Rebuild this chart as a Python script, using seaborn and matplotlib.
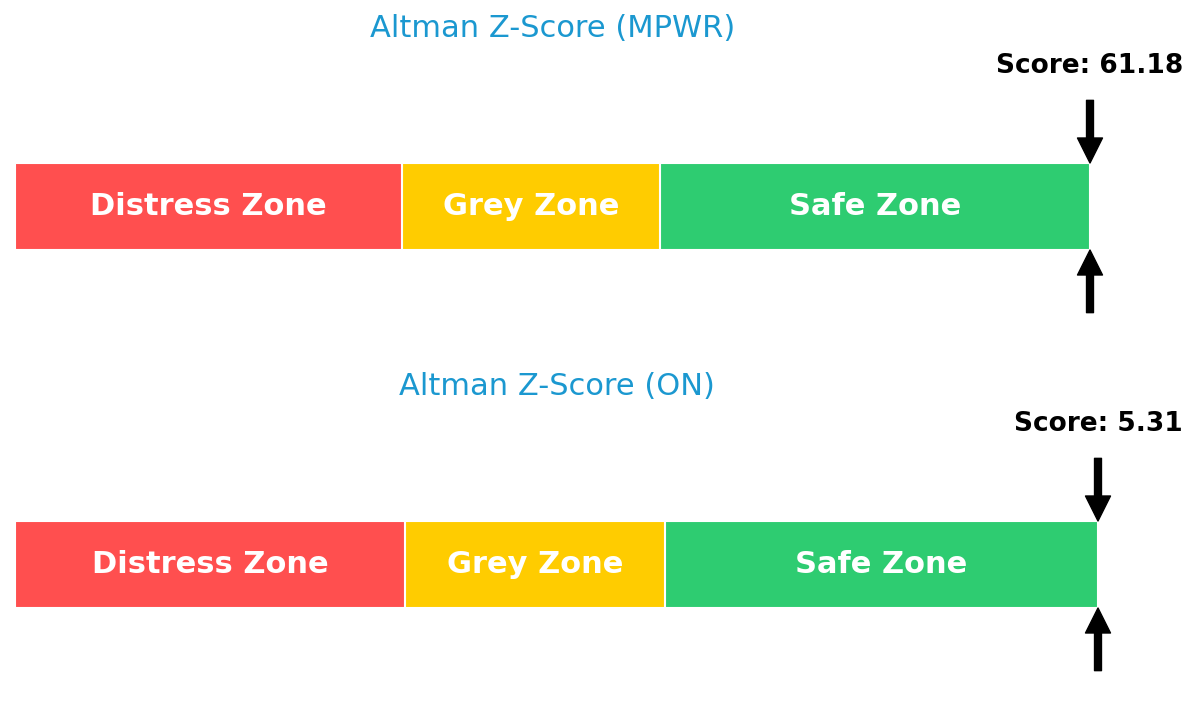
import numpy as np
import pandas as pd
from matplotlib import pyplot as plt
import seaborn as sns

# zone boundaries on the Altman Z-score scale
zone_names = ["Distress Zone", "Grey Zone", "Safe Zone"]
zone_starts = [0.0, 1.8, 3.0]
zone_ends = [1.8, 3.0, 5.0]
zone_colors = ["#ff4f4f", "#ffcc00", "#2ecc71"]

tickers = ["MPWR", "ON"]
scores = [61.18, 5.31]

# panel placement in pixels: left of bar, right of bar, bar top, bar bottom
panel_px = [(15, 1090, 163, 250), (15, 1098, 521, 608)]

W, H = 1200, 715

sns.set_theme(style="white")
plt.rcParams['font.family'] = ['DejaVu Sans']

fig = plt.figure(figsize=(W / 100, H / 100), dpi=100)
fig.patch.set_facecolor("white")

x_max = zone_ends[-1]

for ticker, score, (left, right, top, bottom) in zip(tickers, scores, panel_px):
    ax = fig.add_axes([left / W, 1 - bottom / H, (right - left) / W, (bottom - top) / H])

    # widest bar first so narrower zones overlay it
    df = pd.DataFrame({"zone": zone_names, "end": zone_ends, "pos": [0.5] * 3})
    order = zone_names[::-1]
    sns.barplot(data=df, x="end", y="pos", hue="zone", hue_order=order,
                palette=dict(zip(zone_names, zone_colors)), orient="h",
                native_scale=True, dodge=False, width=1, errorbar=None,
                saturation=1, edgecolor="white", linewidth=1.5,
                legend=False, ax=ax)

    ax.set_xlim(0, x_max)
    ax.set_ylim(0, 1)
    ax.axis("off")

    for name, s, e in zip(zone_names, zone_starts, zone_ends):
        ax.text((s + e) / 2, 0.5, name, ha="center", va="center",
                color="white", fontsize=22, fontweight="bold")

    xs = min(score, x_max)
    arrow = dict(facecolor="black", edgecolor="black", width=5,
                 headwidth=18, headlength=18, shrink=0)
    ax.annotate("", xy=(xs, 1.0), xytext=(xs, 1.72), arrowprops=arrow,
                annotation_clip=False)
    ax.annotate("", xy=(xs, 0.0), xytext=(xs, -0.72), arrowprops=arrow,
                annotation_clip=False)

    ax.text(xs, 2.12, f"Score: {score:.2f}", ha="center", va="center",
            fontsize=19, fontweight="bold", color="black", clip_on=False)
    ax.text(x_max / 2, 2.55, f"Altman Z-Score ({ticker})", ha="center",
            va="center", fontsize=22, color="#1b98d0", clip_on=False)

fig.savefig("out.png", dpi=100, facecolor="white")
